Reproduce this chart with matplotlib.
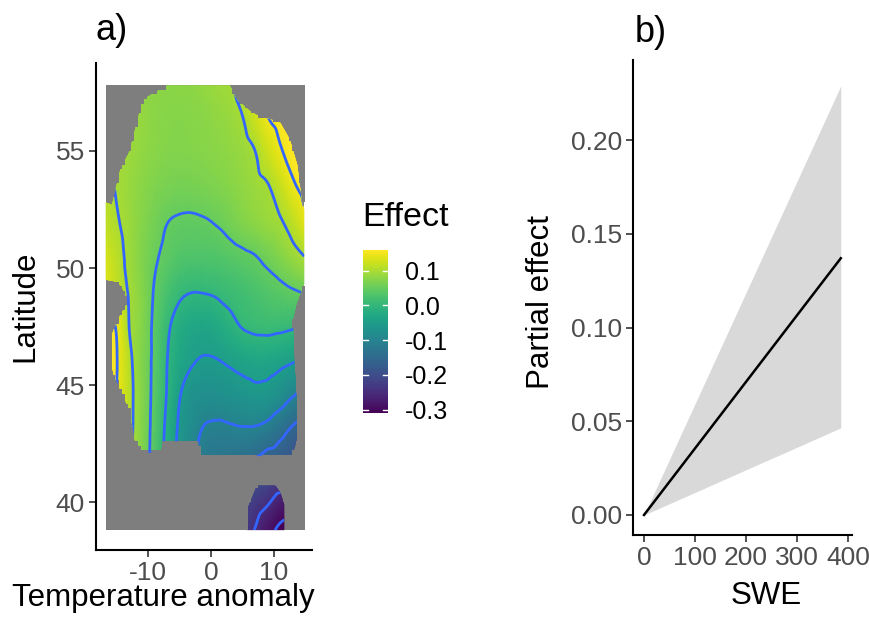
import numpy as np
import matplotlib
matplotlib.use("Agg")
import matplotlib.pyplot as plt
from matplotlib.tri import Triangulation, UniformTriRefiner, CubicTriInterpolator
from matplotlib.path import Path
from matplotlib.patches import Rectangle
from matplotlib.colors import Normalize
from matplotlib.cm import ScalarMappable

plt.rcParams["font.family"] = ["Liberation Sans", "DejaVu Sans"]
plt.rcParams["axes.unicode_minus"] = False

# ---------------- panel a) data ----------------
lon_grid = [-16.7, -15, -13, -11, -9, -7, -5, -3, -1, 1, 3, 5, 7, 9, 11, 13, 14.8]
lat_grid = [38.8, 40, 41.5, 43, 44.5, 46, 47.5, 49, 50.5, 52, 53.5, 55, 56.5, 57.8]
# effect[i][j] -> lat_grid[i], lon_grid[j]
effect = [
    [0.13, 0.112, 0.095, 0.066, 0.026, -0.025, -0.075, -0.118, -0.15, -0.175, -0.2, -0.225, -0.252, -0.283, -0.31, -0.315, -0.315],
    [0.14, 0.12, 0.1, 0.07, 0.03, -0.02, -0.07, -0.11, -0.14, -0.165, -0.19, -0.212, -0.228, -0.245, -0.27, -0.29, -0.3],
    [0.15, 0.13, 0.105, 0.072, 0.035, -0.015, -0.065, -0.1, -0.12, -0.13, -0.138, -0.15, -0.165, -0.185, -0.19, -0.2, -0.205],
    [0.165, 0.14, 0.11, 0.074, 0.037, -0.01, -0.058, -0.085, -0.105, -0.11, -0.108, -0.106, -0.108, -0.118, -0.138, -0.16, -0.175],
    [0.175, 0.148, 0.112, 0.075, 0.04, -0.002, -0.048, -0.072, -0.078, -0.078, -0.074, -0.068, -0.063, -0.066, -0.08, -0.1, -0.115],
    [0.178, 0.152, 0.11, 0.072, 0.042, 0.001, -0.03, -0.047, -0.054, -0.052, -0.045, -0.038, -0.033, -0.034, -0.04, -0.048, -0.055],
    [0.172, 0.147, 0.1, 0.075, 0.043, 0.008, -0.018, -0.03, -0.033, -0.025, -0.012, 0.002, 0.008, 0.01, 0.008, 0.004, 0.0],
    [0.14, 0.12, 0.097, 0.075, 0.048, 0.025, 0.008, 0.001, 0.002, 0.006, 0.012, 0.018, 0.025, 0.033, 0.04, 0.047, 0.053],
    [0.13, 0.112, 0.092, 0.072, 0.055, 0.042, 0.033, 0.03, 0.03, 0.032, 0.037, 0.043, 0.049, 0.06, 0.073, 0.088, 0.1],
    [0.115, 0.103, 0.09, 0.075, 0.062, 0.051, 0.047, 0.046, 0.048, 0.053, 0.062, 0.072, 0.08, 0.088, 0.097, 0.115, 0.14],
    [0.108, 0.098, 0.088, 0.078, 0.07, 0.065, 0.062, 0.063, 0.066, 0.07, 0.075, 0.082, 0.09, 0.098, 0.12, 0.145, 0.16],
    [0.102, 0.095, 0.09, 0.083, 0.077, 0.073, 0.072, 0.073, 0.075, 0.078, 0.082, 0.088, 0.1, 0.125, 0.147, 0.16, 0.165],
    [0.115, 0.105, 0.092, 0.085, 0.078, 0.075, 0.074, 0.075, 0.078, 0.083, 0.088, 0.1, 0.125, 0.15, 0.16, 0.165, 0.168],
    [0.11, 0.10, 0.09, 0.085, 0.08, 0.078, 0.078, 0.08, 0.085, 0.09, 0.095, 0.115, 0.145, 0.16, 0.165, 0.17, 0.17],
]
contour_levels = [-0.3, -0.25, -0.2, -0.15, -0.1, -0.05, 0.0, 0.05, 0.1, 0.15]
effect_ticks = [-0.3, -0.2, -0.1, 0.0, 0.1]
effect_range = (-0.31, 0.16)

# outline of the area with data (main region and a small southern patch)
region_lon = [-7.0, 3.0, 4.1, 6.2, 7.5, 9.0, 11.0, 12.5, 13.7, 14.4, 14.8, 14.8,
              13.6, 13.0, 13.2, 13.6, 13.6, 12.9, -1.7, -2.0, -7.8, -8.0, -10.8,
              -12.1, -12.9, -14.4, -15.4, -15.9, -15.8, -14.8, -13.5, -13.3, -14.1,
              -14.8, -16.7, -16.7, -15.7, -15.2, -14.4, -12.9, -11.7, -10.8, -7.0]
region_lat = [57.8, 57.8, 57.2, 56.7, 56.5, 56.4, 56.2, 55.5, 54.4, 52.9, 52.5, 49.3,
              48.5, 47.8, 46.1, 44.4, 42.65, 42.0, 41.9, 42.6, 42.6, 42.1, 42.1,
              42.65, 43.9, 44.8, 45.4, 46.0, 47.1, 47.8, 48.4, 48.7, 49.15,
              49.4, 49.5, 52.8, 52.7, 53.3, 54.2, 55.0, 56.3, 57.2, 57.7]
patch_lon = [7.3, 10.2, 11.0, 11.6, 11.6, 5.7, 5.7, 6.2]
patch_lat = [40.7, 40.7, 40.4, 39.9, 38.8, 38.8, 39.65, 40.2]
raster_extent = (-16.7, 14.8, 38.8, 57.8)

# ---------------- panel b) data ----------------
swe = [0, 100, 200, 300, 386]
fit = [0.0, 0.0355, 0.071, 0.1065, 0.137]
upper = [0.0, 0.0593, 0.1186, 0.178, 0.229]
lower = [0.0, 0.012, 0.0241, 0.0361, 0.0465]

# ---------------- figure ----------------
W, H = 870, 630
fig = plt.figure(figsize=(W / 100, H / 100), dpi=100)

def fx(px):
    return px / W

def fy(py):
    return 1 - py / H

tick_col = "#4d4d4d"
tick_size = 19
title_size = 22.5
grey_na = "#7f7f7f"

# ---- panel a
ax1 = fig.add_axes([fx(96), fy(550), fx(312) - fx(96), fy(63) - fy(550)])
norm = Normalize(*effect_range)
cmap = plt.get_cmap("viridis")

x0, x1, y0, y1 = raster_extent
ax1.add_patch(Rectangle((x0, y0), x1 - x0, y1 - y0, facecolor=grey_na, edgecolor="none", zorder=0))

LON, LAT = np.meshgrid(lon_grid, lat_grid)
Z = np.array(effect)
tri = Triangulation(LON.ravel(), LAT.ravel())
interp = CubicTriInterpolator(tri, Z.ravel(), kind="geom")
refiner = UniformTriRefiner(tri)
tri_f, z_f = refiner.refine_field(Z.ravel(), triinterpolator=interp, subdiv=4)

clip = Path.make_compound_path(Path(np.column_stack([region_lon, region_lat]), closed=True),
                               Path(np.column_stack([patch_lon, patch_lat]), closed=True))

tp = ax1.tripcolor(tri_f, z_f, cmap=cmap, norm=norm, shading="gouraud", zorder=1)
tp.set_clip_path(clip, transform=ax1.transData)

main_path = Path(np.column_stack([region_lon, region_lat]))
patch_path = Path(np.column_stack([patch_lon, patch_lat]))
nx, ny = 63, 95
xe = np.linspace(x0, x1, nx + 1)
ye = np.linspace(y0, y1, ny + 1)
xc = (xe[:-1] + xe[1:]) / 2
yc = (ye[:-1] + ye[1:]) / 2
XC, YC = np.meshgrid(xc, yc)
pts = np.column_stack([XC.ravel(), YC.ravel()])
inside = (main_path.contains_points(pts) | patch_path.contains_points(pts)).reshape(ny, nx)
mask_img = np.zeros((ny, nx, 4))
mask_img[~inside] = (0.498, 0.498, 0.498, 1.0)
ax1.imshow(mask_img, extent=raster_extent, origin="lower", interpolation="nearest",
           aspect="auto", zorder=2)

cs = ax1.tricontour(tri_f, z_f, levels=contour_levels, colors="#3366FF",
                    linewidths=2.0, linestyles="solid", zorder=3)
cs.set_clip_path(clip, transform=ax1.transData)

ax1.set_xlim(-18.25, 16.03)
ax1.set_ylim(37.95, 58.76)
ax1.set_xticks([-10, 0, 10])
ax1.set_xticklabels(["-10", "0", "10"])
ax1.set_yticks([40, 45, 50, 55])
ax1.set_yticklabels(["40", "45", "50", "55"])

# ---- colourbar
cax = fig.add_axes([fx(363), fy(413), fx(388) - fx(363), fy(250) - fy(413)])
sm = ScalarMappable(norm=norm, cmap=cmap)
cb = fig.colorbar(sm, cax=cax, ticks=effect_ticks)
cb.outline.set_visible(False)
cb.ax.set_yticklabels(["-0.3", "-0.2", "-0.1", "0.0", "0.1"])
cax.tick_params(length=0, labelsize=18, labelcolor="black", pad=12)
for t in effect_ticks:
    cax.plot([0, 0.2], [t, t], color="white", lw=1.0)
    cax.plot([0.8, 1.0], [t, t], color="white", lw=1.0)
fig.text(fx(362), fy(218), "Effect", fontsize=24.5, ha="left", va="center")

# ---- panel b
ax2 = fig.add_axes([fx(633), fy(535), fx(852) - fx(633), fy(60) - fy(535)])
ax2.fill_between(swe, lower, upper, color="#d9d9d9", lw=0)
ax2.plot(swe, fit, color="black", lw=1.8)
ax2.set_xlim(-21.6, 408)
ax2.set_ylim(-0.0107, 0.2428)
ax2.set_xticks([0, 100, 200, 300, 400])
ax2.set_yticks([0.0, 0.05, 0.10, 0.15, 0.20])
ax2.set_yticklabels(["0.00", "0.05", "0.10", "0.15", "0.20"])

for ax in (ax1, ax2):
    for s in ("top", "right"):
        ax.spines[s].set_visible(False)
    for s in ("left", "bottom"):
        ax.spines[s].set_linewidth(1.5)
        ax.spines[s].set_color("black")
    ax.tick_params(length=5, width=1.2, color="#333333", labelsize=tick_size,
                   labelcolor=tick_col, pad=3)

# axis titles and tags
fig.text(fx(25), fy(306), "Latitude", rotation=90, fontsize=title_size, ha="center", va="center")
fig.text(fx(163), fy(598), "Temperature anomaly", fontsize=title_size, ha="center", va="center")
fig.text(fx(541), fy(302), "Partial effect", rotation=90, fontsize=title_size, ha="center", va="center")
fig.text(fx(766), fy(596), "SWE", fontsize=title_size, ha="center", va="center")
fig.text(fx(96), fy(30), "a)", fontsize=26, ha="left", va="center")
fig.text(fx(635), fy(32), "b)", fontsize=26, ha="left", va="center")

fig.savefig("out.png", dpi=100)
